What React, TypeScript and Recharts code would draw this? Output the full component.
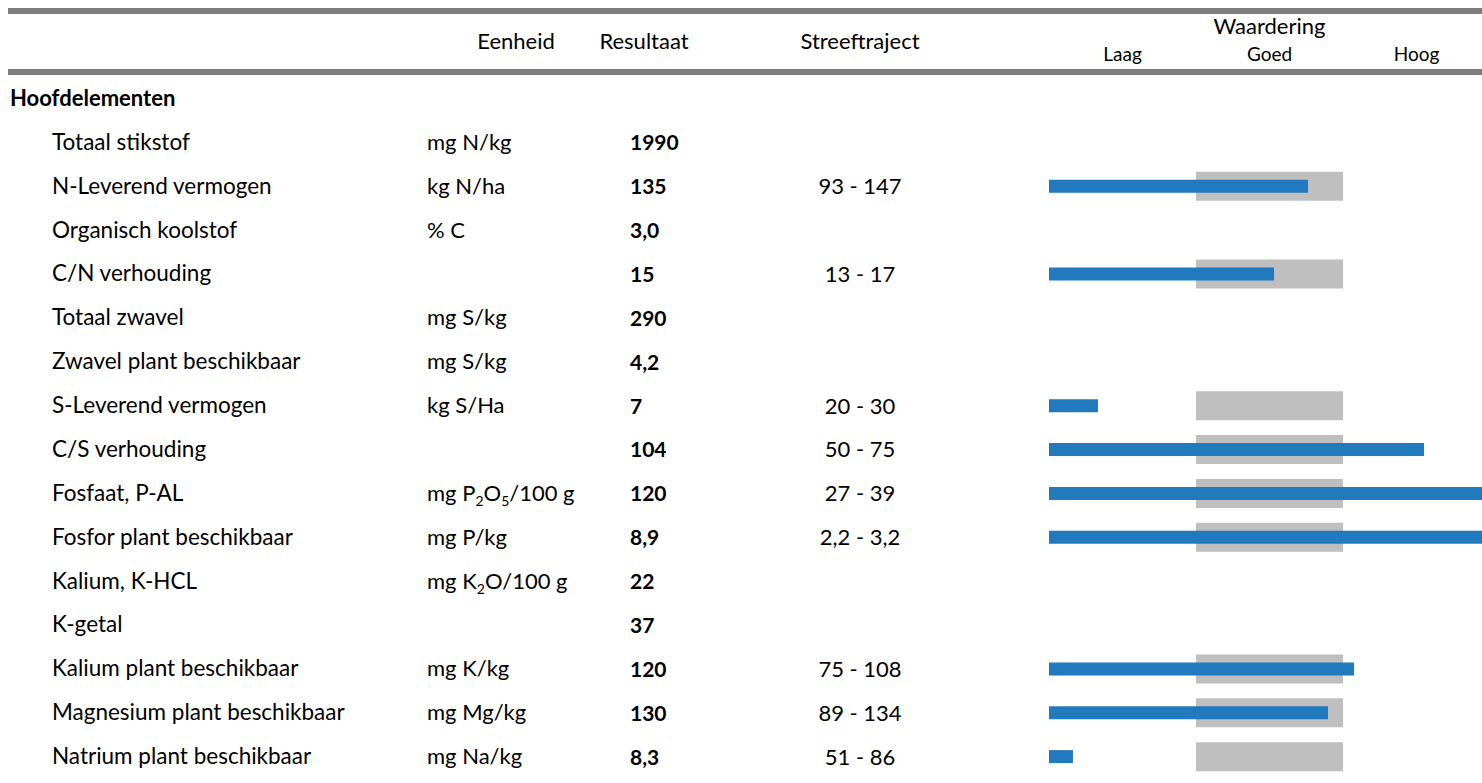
import React from "react";
import { BarChart, Bar, XAxis, YAxis, Customized } from "recharts";

// ---- data ----
const categories = [
  "Hoofdelementen",
  "Totaal stikstof",
  "N-Leverend vermogen",
  "Organisch koolstof",
  "C/N verhouding",
  "Totaal zwavel",
  "Zwavel plant beschikbaar",
  "S-Leverend vermogen",
  "C/S verhouding",
  "Fosfaat, P-AL",
  "Fosfor plant beschikbaar",
  "Kalium, K-HCL",
  "K-getal",
  "Kalium plant beschikbaar",
  "Magnesium plant beschikbaar",
  "Natrium plant beschikbaar",
];
const units = [
  "", "mg N/kg", "kg N/ha", "% C", "", "mg S/kg", "mg S/kg", "kg S/Ha", "",
  "mg P_2O_5/100 g", "mg P/kg", "mg K_2O/100 g", "", "mg K/kg", "mg Mg/kg", "mg Na/kg",
];
const results = [
  "", "1990", "135", "3,0", "15", "290", "4,2", "7", "104", "120", "8,9", "22", "37", "120", "130", "8,3",
];
const targetRanges = [
  "", "", "93 - 147", "", "13 - 17", "", "", "20 - 30", "50 - 75", "27 - 39", "2,2 - 3,2",
  "", "", "75 - 108", "89 - 134", "51 - 86",
];
// bar end on the Laag(0-1) / Goed(1-2) / Hoog(2-3) scale
const scores: (number | null)[] = [
  null, null, 1.762, null, 1.531, null, null, 0.333, 2.551, 3.0, 3.0, null, null, 2.075, 1.898, 0.163,
];
const zoneLabels = ["Laag", "Goed", "Hoog"];
const zoneTicks = [0.5, 1.5, 2.5];
const headerColumns = ["Eenheid", "Resultaat", "Streeftraject"];
const groupTitle = "Waardering";

const rows = categories.map((name, i) => ({
  name,
  unit: units[i],
  result: results[i],
  range: targetRanges[i],
  good: targetRanges[i] ? [1, 2] : null,
  score: scores[i],
}));

const FONT = "Lato, 'Open Sans', sans-serif";
const BLUE = "#2179BE";
const GREY = "#BFBFBF";
const RULE = "#7F7F7F";
const X_MAX = 433 / 147;

function parseUnit(u: string) {
  const segs: { t: string; sub: boolean }[] = [];
  let i = 0;
  while (i < u.length) {
    if (u[i] === "_" && i + 1 < u.length) {
      segs.push({ t: u[i + 1], sub: true });
      i += 2;
    } else {
      const last = segs[segs.length - 1];
      if (last && !last.sub) last.t += u[i];
      else segs.push({ t: u[i], sub: false });
      i += 1;
    }
  }
  return segs;
}

const RowTick = (props: any) => {
  const { y, payload } = props;
  const idx = categories.indexOf(payload.value);
  const r = rows[idx];
  if (!r) return null;
  if (idx === 0) {
    return (
      <text x={10} y={y + 7} fontFamily={FONT} fontSize={22} fontWeight="bold" fill="#000">
        {r.name}
      </text>
    );
  }
  const segs = parseUnit(r.unit);
  let prevSub = false;
  return (
    <g>
      <text x={52} y={y + 7} fontFamily={FONT} fontSize={22.5} fill="#000">
        {r.name}
      </text>
      {r.unit && (
        <text x={427} y={y + 7} fontFamily={FONT} fontSize={22} fill="#000">
          {segs.map((s, k) => {
            const dy = s.sub ? 5 : prevSub ? -5 : 0;
            prevSub = s.sub;
            return (
              <tspan key={k} dy={dy} fontSize={s.sub ? 14 : 22}>
                {s.t}
              </tspan>
            );
          })}
        </text>
      )}
      <text x={630} y={y + 7.5} fontFamily={FONT} fontSize={21} fontWeight="bold" fill="#000">
        {r.result}
      </text>
      {r.range && (
        <text x={860} y={y + 7.5} fontFamily={FONT} fontSize={22} fill="#000" textAnchor="middle">
          {r.range}
        </text>
      )}
    </g>
  );
};

const ZoneTick = (props: any) => {
  const { x, payload, index } = props;
  const i = zoneTicks.indexOf(payload.value);
  const label = zoneLabels[i >= 0 ? i : index];
  return (
    <g>
      {payload.value === 1.5 && (
        <text x={x} y={34} fontFamily={FONT} fontSize={22} fill="#000" textAnchor="middle">
          {groupTitle}
        </text>
      )}
      <text x={x} y={61} fontFamily={FONT} fontSize={19} fill="#000" textAnchor="middle">
        {label}
      </text>
    </g>
  );
};

const HeaderLayer = () => {
  const cols = [516, 644, 860];
  return (
    <g>
      <rect x={8} y={8} width={1474} height={6} fill={RULE} />
      <rect x={8} y={69} width={1474} height={6} fill={RULE} />
      {headerColumns.map((h, i) => (
        <text key={h} x={cols[i]} y={49} fontFamily={FONT} fontSize={22} fill="#000" textAnchor="middle">
          {h}
        </text>
      ))}
    </g>
  );
};

export default function App() {
  return (
    <div
      style={{
        position: "absolute",
        left: 0,
        top: 0,
        width: 1482,
        height: 783,
        overflow: "hidden",
        fontFamily: FONT,
      }}
    >
      <BarChart
        width={1482}
        height={779}
        data={rows}
        layout="vertical"
        margin={{ top: 47, right: 0, bottom: 0, left: 8 }}
      >
        <XAxis
          type="number"
          orientation="top"
          domain={[0, X_MAX]}
          allowDataOverflow
          ticks={zoneTicks}
          interval={0}
          axisLine={false}
          tickLine={false}
          height={30}
          tick={<ZoneTick />}
        />
        <YAxis
          yAxisId="a"
          type="category"
          dataKey="name"
          width={1041}
          interval={0}
          axisLine={false}
          tickLine={false}
          tick={<RowTick />}
        />
        <YAxis yAxisId="b" type="category" dataKey="name" hide />
        <Bar yAxisId="a" dataKey="good" fill={GREY} barSize={29} isAnimationActive={false} />
        <Bar yAxisId="b" dataKey="score" fill={BLUE} barSize={13} isAnimationActive={false} />
        <Customized component={HeaderLayer} />
      </BarChart>
    </div>
  );
}
